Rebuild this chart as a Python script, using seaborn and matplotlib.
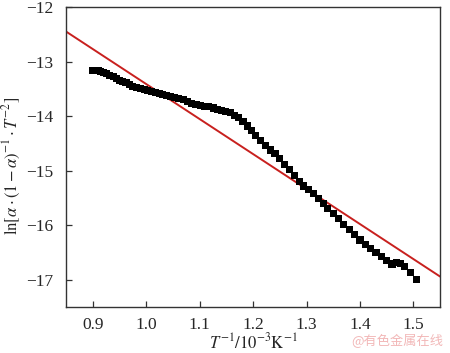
import matplotlib
matplotlib.use("Agg")
import matplotlib.pyplot as plt
import seaborn as sns
import pandas as pd

# values
inv_t = [0.900, 0.905, 0.910, 0.915, 0.920, 0.926, 0.932, 0.938, 0.944, 0.950,
         0.956, 0.962, 0.968, 0.975, 0.982, 0.989, 0.996, 1.003, 1.010, 1.017,
         1.024, 1.031, 1.038, 1.045, 1.053, 1.061, 1.069, 1.077, 1.085, 1.093,
         1.101, 1.109, 1.117, 1.125, 1.133, 1.141, 1.149, 1.157, 1.165, 1.173,
         1.181, 1.189, 1.197, 1.205, 1.214, 1.223, 1.232, 1.241, 1.250, 1.259,
         1.268, 1.277, 1.286, 1.295, 1.304, 1.313, 1.322, 1.331, 1.340, 1.350,
         1.360, 1.370, 1.380, 1.390, 1.400, 1.410, 1.420, 1.430, 1.440, 1.450,
         1.460, 1.468, 1.476, 1.484, 1.495, 1.506]
ln_val = [-13.17, -13.17, -13.17, -13.18, -13.20, -13.22, -13.25, -13.28, -13.31, -13.34,
          -13.36, -13.39, -13.42, -13.45, -13.47, -13.49, -13.51, -13.53, -13.55, -13.56,
          -13.58, -13.60, -13.62, -13.64, -13.66, -13.68, -13.70, -13.73, -13.76, -13.78,
          -13.80, -13.82, -13.83, -13.85, -13.87, -13.89, -13.91, -13.94, -13.98, -14.03,
          -14.10, -14.18, -14.27, -14.36, -14.45, -14.53, -14.62, -14.68, -14.78, -14.88,
          -14.98, -15.09, -15.19, -15.28, -15.35, -15.42, -15.51, -15.60, -15.70, -15.79,
          -15.88, -15.98, -16.08, -16.17, -16.27, -16.35, -16.43, -16.50, -16.57, -16.64,
          -16.71, -16.69, -16.70, -16.76, -16.86, -17.00]

# linear fit line (end points)
fit_x = [0.85, 1.55]
fit_y = [-12.45, -16.94]

xticks = [0.9, 1.0, 1.1, 1.2, 1.3, 1.4, 1.5]
yticks = [-17, -16, -15, -14, -13, -12]

sns.set_style("ticks")
plt.rcParams['font.family'] = ['Liberation Serif', 'DejaVu Serif']
plt.rcParams['mathtext.fontset'] = 'stix'
plt.rcParams['xtick.direction'] = 'in'
plt.rcParams['ytick.direction'] = 'in'

pts = pd.DataFrame({'x': inv_t, 'y': ln_val})
fit = pd.DataFrame({'x': fit_x, 'y': fit_y})

fig = plt.figure(figsize=(4.5, 3.53), dpi=100)
ax = fig.add_axes([0.147, 0.130, 0.831, 0.850])

sns.lineplot(data=fit, x='x', y='y', ax=ax, color='#c8201e', linewidth=1.4)
sns.scatterplot(data=pts, x='x', y='y', ax=ax, marker='s', s=26,
                color='black', edgecolor='none', zorder=3)

ax.set_xlim(0.85, 1.55)
ax.set_ylim(-17.5, -12)
ax.set_xticks(xticks)
ax.set_xticklabels([f"{v:.1f}" for v in xticks])
ax.set_yticks(yticks)
ax.set_yticklabels([f"\u2212{abs(v)}" for v in yticks])
ax.tick_params(labelsize=12.5, length=4, width=0.9, color='#333333')
ax.tick_params(axis='y', pad=9)
ax.tick_params(axis='x', pad=7)
for sp in ax.spines.values():
    sp.set_color('#333333')
    sp.set_linewidth(1.0)

ax.set_xlabel(r'$T^{-1}/10^{-3}\mathrm{K}^{-1}$', fontsize=12, labelpad=0)
ax.set_ylabel(r'$\mathrm{ln}[\alpha\cdot(1-\alpha)^{-1}\cdot T^{-2}]$', fontsize=12)
ax.yaxis.set_label_coords(-0.115, 0.47)

fig.text(0.985, 0.015, '@有色金属在线', ha='right', va='bottom', fontsize=9.5,
         color='#f2b8b8', family=['Noto Sans CJK SC', 'DejaVu Sans'])

fig.savefig('out.png', dpi=100)
